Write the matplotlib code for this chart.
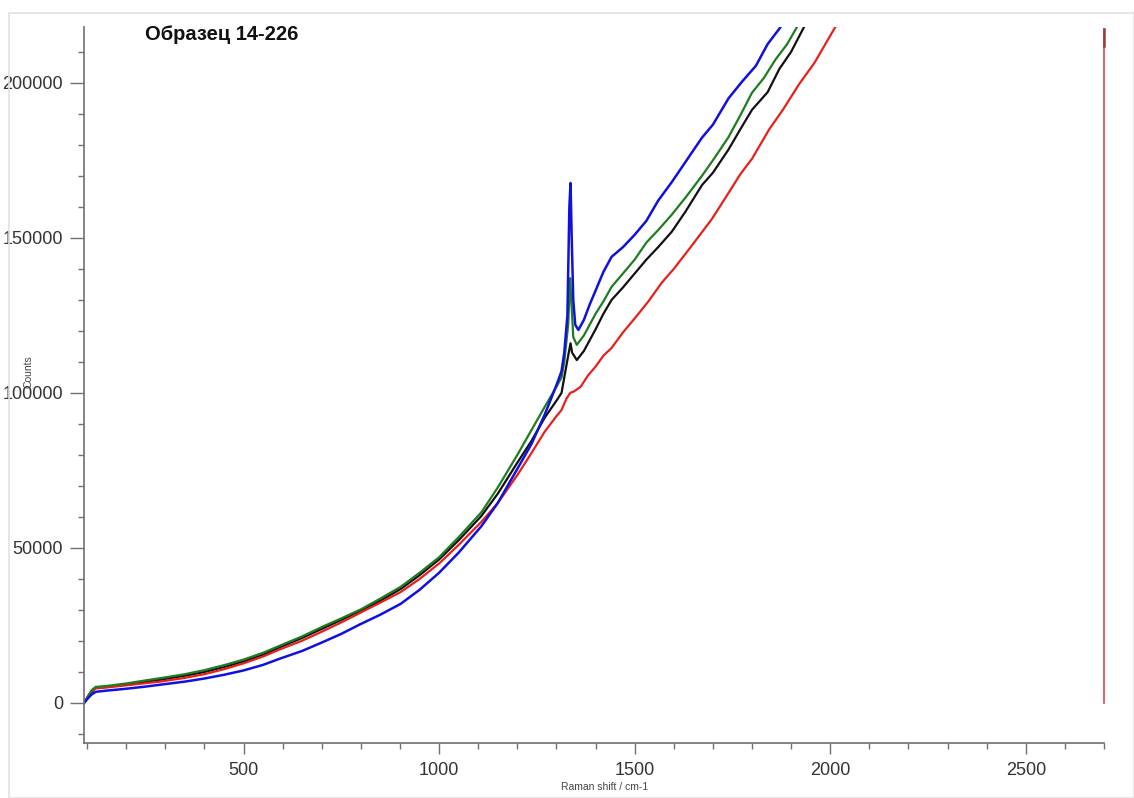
import matplotlib
matplotlib.use("Agg")
import matplotlib.pyplot as plt
from matplotlib.ticker import MultipleLocator, FixedLocator
from matplotlib.patches import Rectangle

title = "Образец 14-226"
x_label = "Raman shift / cm-1"
y_label = "Counts"

blue_x = [92, 104, 112, 122, 150, 200, 250, 287, 350, 400, 450, 500, 550, 595, 650, 700, 750,
          800, 850, 902, 950, 1000, 1050, 1108, 1150, 1200, 1236, 1270, 1300, 1313,
          1320, 1328, 1333, 1336, 1339, 1343, 1348, 1356, 1370, 1385, 1400, 1420, 1441,
          1470, 1500, 1530, 1560, 1595, 1630, 1672, 1700, 1740, 1774, 1810, 1840, 1872]
blue_y = [0, 1800, 2800, 3600, 4000, 4600, 5300, 5900, 6900, 7900, 9100, 10500, 12300, 14400,
          16800, 19500, 22300, 25500, 28500, 32000, 36500, 42000, 48500, 57000, 64500, 75500,
          83500, 93000, 102500, 107000, 113000, 125000, 160000, 167700, 150000, 130000,
          122000, 120300, 123500, 128500, 133000, 139000, 143900, 147000, 151000, 155500,
          162000, 168000, 174500, 182300, 186500, 195000, 200300, 205500, 212500, 217800]

green_x = [92, 104, 112, 122, 150, 200, 250, 287, 350, 400, 450, 500, 550, 595, 650, 700, 750,
           800, 850, 902, 950, 1000, 1050, 1108, 1150, 1200, 1236, 1270, 1300, 1313,
           1320, 1330, 1335, 1338, 1343, 1352, 1370, 1385, 1400, 1420, 1441, 1470, 1500,
           1530, 1560, 1595, 1630, 1672, 1700, 1740, 1770, 1800, 1830, 1860, 1890, 1915]
green_y = [0, 2600, 4200, 5200, 5500, 6300, 7300, 8000, 9300, 10600, 12200, 14000, 16200,
           18600, 21500, 24500, 27300, 30200, 33700, 37500, 42000, 47000, 53500, 61500, 69500,
           80000, 88000, 95500, 102000, 105000, 110000, 122000, 137000, 130000, 118000,
           115500, 118500, 122000, 125500, 129500, 134200, 138500, 143000, 148500, 152500,
           157500, 163000, 170000, 175000, 182500, 189500, 196800, 201500, 207500, 212500,
           218000]

black_x = [92, 104, 112, 122, 150, 200, 250, 287, 350, 400, 450, 500, 550, 595, 650, 700, 750,
           800, 850, 902, 950, 1000, 1050, 1108, 1150, 1200, 1236, 1270, 1300, 1313,
           1320, 1330, 1336, 1340, 1352, 1370, 1385, 1400, 1420, 1441, 1470, 1500, 1530,
           1560, 1595, 1630, 1672, 1700, 1740, 1770, 1800, 1840, 1870, 1900, 1933]
black_y = [0, 2300, 3600, 4900, 5200, 6000, 6900, 7500, 8800, 10000, 11600, 13400, 15600,
           18100, 21000, 23900, 26800, 29800, 33000, 36800, 41200, 46300, 52500, 60300, 67500,
           77500, 84500, 92000, 97500, 100000, 105000, 112000, 116000, 113000, 110600,
           113500, 117000, 120500, 125500, 130000, 134000, 138500, 143000, 147000, 152000,
           158500, 167000, 171000, 178500, 185000, 191300, 197000, 204500, 210000, 218000]

red_x = [92, 104, 112, 122, 150, 200, 250, 287, 350, 400, 450, 500, 550, 595, 650, 700, 750,
         800, 850, 902, 950, 1000, 1050, 1108, 1150, 1200, 1236, 1270, 1300, 1313,
         1325, 1335, 1345, 1362, 1380, 1400, 1420, 1441, 1470, 1500, 1535, 1569, 1600,
         1640, 1697, 1730, 1770, 1800, 1844, 1880, 1920, 1960, 2013, 2030]
red_y = [0, 2500, 3900, 4700, 5000, 5700, 6400, 6900, 8100, 9300, 10900, 12800, 15000, 17400,
         20100, 23000, 26000, 29200, 32400, 35800, 40000, 45000, 51000, 58400, 64500, 73500,
         80600, 87500, 92500, 94500, 98000, 100000, 100500, 102000, 105500, 108500, 112000,
         114500, 119500, 124000, 129500, 135500, 140000, 146500, 156000, 162500, 170500,
         175500, 185000, 191500, 199500, 206500, 218000, 221000]

red_tail_x = [2700, 2700]
red_tail_y = [0, 217500]
red_tail_top_y = [212000, 217500]

fig = plt.figure(figsize=(11.34, 7.98), dpi=100)
fig.patches.append(Rectangle((9 / 1134, 0), 1 - 9 / 1134, 1 - 13 / 798,
                             transform=fig.transFigure, fill=False,
                             edgecolor="#e2e2e2", linewidth=1.2))
ax = fig.add_axes([84 / 1134, 1 - 743 / 798, (1104 - 84) / 1134, (743 - 27) / 798])

ax.plot(red_tail_x, red_tail_y, color="#d84a44", linewidth=1.2, clip_on=False)
ax.plot(red_tail_x, red_tail_top_y, color="#9c3a3a", linewidth=1.8, clip_on=False)
ax.plot(black_x, black_y, color="#111111", linewidth=1.6)
ax.plot(red_x, red_y, color="#e8201c", linewidth=1.6)
ax.plot(green_x, green_y, color="#1e7d1e", linewidth=1.6)
ax.plot(blue_x, blue_y, color="#1010e0", linewidth=1.8)

ax.set_xlim(92, 2700)
ax.set_ylim(-12900, 218000)

for s in ["top", "right"]:
    ax.spines[s].set_visible(False)
for s in ["left", "bottom"]:
    ax.spines[s].set_color("#707070")
    ax.spines[s].set_linewidth(1.2)

ax.xaxis.set_major_locator(FixedLocator([500, 1000, 1500, 2000, 2500]))
ax.xaxis.set_minor_locator(MultipleLocator(100))
ax.yaxis.set_major_locator(MultipleLocator(50000))
ax.yaxis.set_minor_locator(MultipleLocator(10000))
ax.tick_params(axis="x", which="major", direction="out", length=8, width=1,
               color="#707070", labelsize=13, labelcolor="#333333", pad=6)
ax.tick_params(axis="y", which="major", direction="out", length=10, width=1,
               color="#707070", labelsize=13, labelcolor="#333333", pad=5)
ax.tick_params(axis="both", which="minor", direction="out", length=4, width=1,
               color="#707070")
for lab in ax.get_xticklabels() + ax.get_yticklabels():
    lab.set_fontfamily("Liberation Sans")

fig.text(145 / 1134, 1 - 35 / 798, title, fontsize=14.5, fontweight="bold",
         fontfamily="Liberation Sans", ha="left", va="center", color="#111111")
fig.text(605 / 1134, 1 - 787 / 798, x_label, fontsize=7.5, fontfamily="Liberation Sans",
         ha="center", va="center", color="#444444")
fig.text(28 / 1134, 1 - 372 / 798, y_label, fontsize=7.5, fontfamily="Liberation Sans",
         rotation=90, ha="center", va="center", color="#444444")

fig.savefig("out.png", dpi=100)
